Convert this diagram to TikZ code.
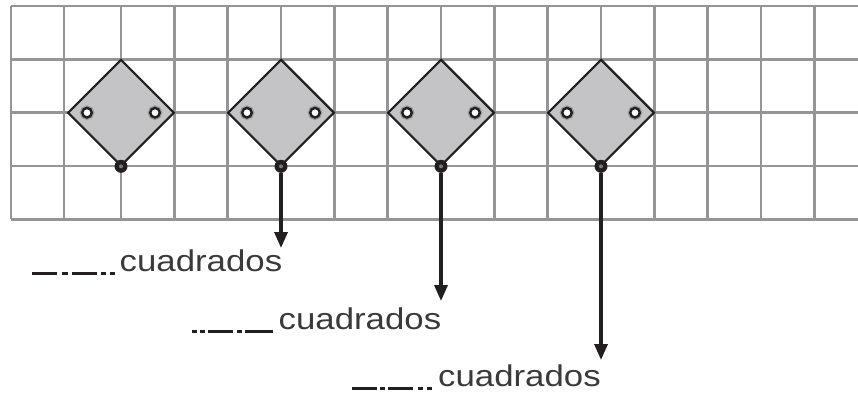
\documentclass[tikz,border=0pt]{standalone}
\usepackage{fontspec}
\setmainfont{Liberation Sans}
\usetikzlibrary{shapes.geometric,arrows.meta}
\definecolor{gridgray}{HTML}{939598}
\definecolor{ink}{HTML}{231F20}
\definecolor{textink}{HTML}{3A3A3A}
\definecolor{tilefill}{HTML}{C4C4C6}
\definecolor{halo}{HTML}{9A9A9A}
\newcommand{\blankseg}[1]{\textcolor{ink}{\rule[-3.6pt]{#1pt}{3pt}}}
\newcommand{\gapseg}[1]{\hspace{#1pt}}
\newcommand{\cuadword}{\scalebox{1.16}[1]{cuadrados}}
\tikzset{
  gridline/.style={draw=gridgray, line width=2.4pt},
  tile/.style={diamond, aspect=1, draw=ink, line width=2.2pt, fill=tilefill,
    minimum width=106.7pt, minimum height=106.7pt, inner sep=0pt},
  hole/.style={circle, draw=ink, line width=2.4pt, fill=white, minimum size=9.5pt,
    inner sep=0pt, preaction={draw=halo, line width=5pt}},
  pin/.style={circle, fill=ink, minimum size=13pt, inner sep=0pt,
    path picture={\fill[halo!80!black] (path picture bounding box.center) circle (2pt);}},
  arr/.style={draw=ink, line width=3.4pt, -{Triangle[width=13pt,length=16pt]}},
  label/.style={anchor=base west, inner sep=0pt, text=textink,
    font=\fontsize{30}{36}\selectfont}
}
\begin{document}
\begin{tikzpicture}[x=1pt, y=-1pt]
\useasboundingbox (0,0) rectangle (858,394);
% grid
\foreach \j in {0,...,4} {
  \draw[gridline] (11, {6+53.33*\j}) -- (858, {6+53.33*\j});
}
\foreach \xx in {11,64} {
  \draw[gridline] (\xx, 6) -- (\xx, 219.3);
}
\foreach \k in {0,...,13} {
  \draw[gridline] ({121+53.33*\k}, 6) -- ({121+53.33*\k}, 219.3);
}
% tiles
\foreach \i in {1,...,4} {
  \node[tile] (d\i) at ({121+160*(\i-1)}, 112.7) {};
  \node[hole] (l\i) at ({121+160*(\i-1)-34}, 112.7) {};
  \node[hole] (r\i) at ({121+160*(\i-1)+34}, 112.7) {};
  \node[pin]  (b\i) at ({121+160*(\i-1)}, 166.3) {};
}
% arrow ends
\coordinate (t2) at (281, 248);
\coordinate (t3) at (441, 301);
\coordinate (t4) at (601, 360);
\draw[arr] (b2.south) -- (t2);
\draw[arr] (b3.south) -- (t3);
\draw[arr] (b4.south) -- (t4);
% labels
\node[label] (c1) at (31.7, 271.5) {\blankseg{25}\gapseg{5}\blankseg{6}\gapseg{4}\blankseg{25}\gapseg{4.3}\blankseg{5}\gapseg{4}\blankseg{5}\gapseg{4.5}\cuadword};
\node[label] (c2) at (191.7, 329.5) {\blankseg{5}\gapseg{3.3}\blankseg{5}\gapseg{3}\blankseg{25}\gapseg{4}\blankseg{5}\gapseg{3}\blankseg{28}\gapseg{5.5}\cuadword};
\node[label] (c3) at (351.7, 386.5) {\blankseg{25}\gapseg{3.3}\blankseg{5}\gapseg{3}\blankseg{25}\gapseg{5}\blankseg{5}\gapseg{4}\blankseg{5}\gapseg{6}\cuadword};
\end{tikzpicture}
\end{document}
